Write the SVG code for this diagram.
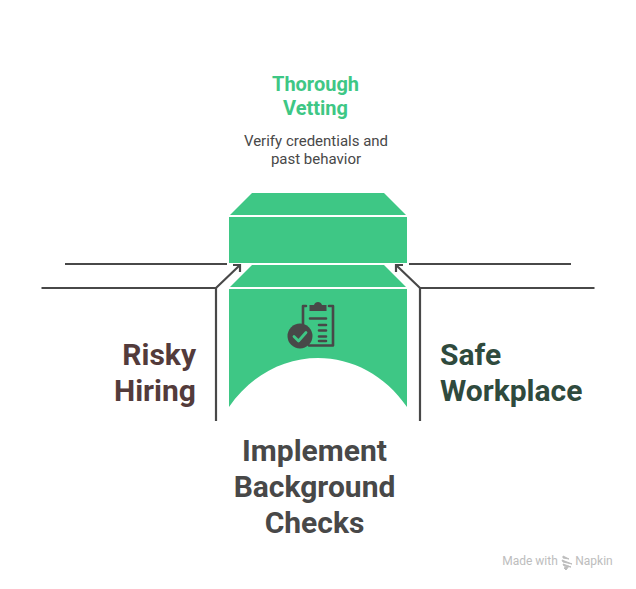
<svg xmlns="http://www.w3.org/2000/svg" width="636" height="589" viewBox="0 0 636 589">
<style>
.g{fill:#3EC785}
.l{fill:none;stroke:#484848;stroke-width:2.200}
text{font-family:Roboto,"Liberation Sans",sans-serif;text-anchor:middle}
.h{font-size:30px;font-weight:700}
.s{font-size:20px;font-weight:700;fill:#3EC785}
.d{font-size:15px;fill:#484848}
.i{fill:#484848}
.o{fill:none;stroke:#484848;stroke-width:2.600;stroke-linecap:round;stroke-linejoin:round}
</style>
<rect width="636" height="589" fill="#fff"/>
<g id="connectors">
<path class="l" d="M65 264H227"/>
<path class="l" d="M409 264H571"/>
<path class="l" d="M41.500 288H216L240 265"/>
<path class="l" d="M594.500 288H420L396 265"/>
<path class="l" d="M216 288V421"/>
<path class="l" d="M420 288V421"/>
<path class="l" d="M233 265H240V272"/>
<path class="l" d="M403 265H396V272"/>
</g>
<g id="node-top">
<path class="g" d="M252 193H384L406 215H230Z"/>
<rect class="g" x="229" y="217" width="178" height="46"/>
<text class="s" x="315.500" y="91">Thorough</text>
<text class="s" x="315.500" y="115">Vetting</text>
<text class="d" x="316" y="146">Verify credentials and</text>
<text class="d" x="316" y="164">past behavior</text>
</g>
<g id="node-main">
<path class="g" d="M252 265H384L406 287H230Z"/>
<path class="g" d="M229 289H407V407C385 375 352 358 318 358C284 358 251 375 229 407Z"/>
<g id="icon">
<path class="o" d="M306 306H303V326M329 306H333V345.500H309"/>
<path class="i" d="M309.500 311V305H314C315 301 321 301 322 305H326.500V311Z"/>
<path class="o" d="M310 318.500H326M319 325H326M319 330.500H326M319 336.500H326M319 341H326"/>
<circle class="i" cx="300" cy="336" r="12.500"/>
<path d="M294 336.500L298.500 341L306 332.500" fill="none" stroke="#3EC785" stroke-width="2.800" stroke-linecap="round" stroke-linejoin="round"/>
</g>
<text class="h" x="314.500" y="461" fill="#484848">Implement</text>
<text class="h" x="314.500" y="497" fill="#484848">Background</text>
<text class="h" x="314.500" y="533" fill="#484848">Checks</text>
</g>
<g id="node-risky">
<text class="h" x="196" y="365" style="text-anchor:end" fill="#533B3B">Risky</text>
<text class="h" x="196" y="401" style="text-anchor:end" fill="#533B3B">Hiring</text>
</g>
<g id="node-safe">
<text class="h" x="440" y="365" style="text-anchor:start" fill="#2F4A3D">Safe</text>
<text class="h" x="440" y="401" style="text-anchor:start" fill="#2F4A3D">Workplace</text>
</g>
<g id="watermark">
<text x="530" y="565" font-size="12" fill="#BDBDBD">Made with</text>
<path d="M563 556L569 559L563 558ZM562 560L572 564L563 562ZM563 564L571 567L564 566ZM564 568L569 566L566 570Z" fill="#BDBDBD" stroke="#BDBDBD" stroke-width="1"/>
<text x="594" y="565" font-size="12" fill="#BDBDBD">Napkin</text>
</g>
</svg>
